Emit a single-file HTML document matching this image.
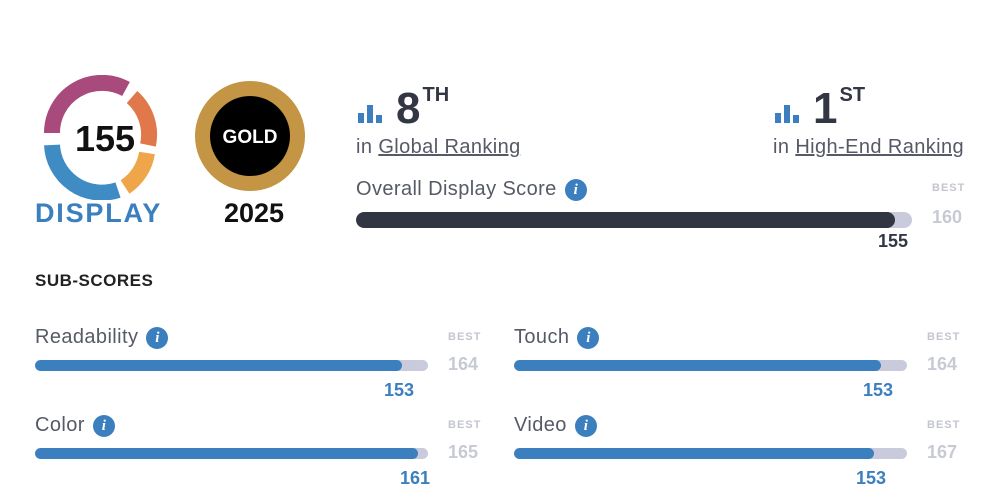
<!DOCTYPE html>
<html><head><meta charset="utf-8"><style>
body{margin:0;width:998px;height:502px;background:#fff;font-family:"Liberation Sans",sans-serif;position:relative;overflow:hidden;color:#333744}
.a{position:absolute}
.lbl{font-size:20px;color:#555a66;letter-spacing:0.4px}
.info{display:inline-block;width:22px;height:22px;border-radius:50%;background:#3b7fbf;color:#fff;font:italic bold 15px "Liberation Serif",serif;text-align:center;line-height:22px;vertical-align:middle;margin-left:8px;letter-spacing:0}
.best{font-size:11px;font-weight:bold;color:#c3c6cf;letter-spacing:1px}
.bestv{font-size:18px;font-weight:bold;color:#c7cad3}
.val{font-size:18px;font-weight:bold;color:#3b7fbf}
.track{background:#c9cbdc;border-radius:6px;overflow:hidden}
.fill{height:100%;background:#3b7fbf;border-radius:6px}
</style></head><body>
<svg class="a" style="left:30px;top:75px" width="140" height="125">
<g fill="none" stroke-width="16">
<path d="M22,58 A50,50 0 0 1 96,14" stroke="#a84a7c"/>
<path d="M102,22 A50,50 0 0 1 118,70" stroke="#e0784c"/>
<path d="M117,78 A50,50 0 0 1 95,112" stroke="#efa64a"/>
<path d="M88,115 A50,50 0 0 1 22,70" stroke="#3f8bc4"/>
</g>
<text x="75" y="76" text-anchor="middle" font-family="Liberation Sans" font-size="36" font-weight="bold" fill="#111">155</text>
</svg>
<div class="a" style="left:35px;top:198px;font-size:27px;font-weight:bold;color:#3b7fbf;letter-spacing:1.8px">DISPLAY</div>
<svg class="a" style="left:190px;top:78px" width="125" height="120">
<circle cx="60" cy="58" r="55" fill="#c39544"/>
<circle cx="60" cy="58" r="40" fill="#000"/>
<text x="60" y="65" text-anchor="middle" font-family="Liberation Sans" font-size="19" font-weight="bold" fill="#fff">GOLD</text>
</svg>
<div class="a" style="left:224px;top:198px;font-size:27px;font-weight:bold;color:#111">2025</div>

<div class="a" style="left:356px;top:84px">
<svg width="30" height="22" style="vertical-align:baseline"><rect x="2" y="12" width="6" height="10" fill="#3b7fbf"/><rect x="11" y="4" width="6" height="18" fill="#3b7fbf"/><rect x="20" y="14" width="6" height="8" fill="#3b7fbf"/></svg><span style="font-size:44px;font-weight:bold;margin-left:10px">8</span><span style="font-size:20px;font-weight:bold;vertical-align:22px;margin-left:2px">TH</span></div>
<div class="a lbl" style="left:356px;top:136px">in <u>Global Ranking</u></div>
<div class="a" style="left:773px;top:84px">
<svg width="30" height="22"><rect x="2" y="12" width="6" height="10" fill="#3b7fbf"/><rect x="11" y="4" width="6" height="18" fill="#3b7fbf"/><rect x="20" y="14" width="6" height="8" fill="#3b7fbf"/></svg><span style="font-size:44px;font-weight:bold;margin-left:10px">1</span><span style="font-size:20px;font-weight:bold;vertical-align:22px;margin-left:2px">ST</span></div>
<div class="a lbl" style="left:773px;top:136px">in <u>High-End Ranking</u></div>

<div class="a lbl" style="left:356px;top:178px">Overall Display Score<span class="info">i</span></div>
<div class="a best" style="left:932px;top:182px">BEST</div>
<div class="a bestv" style="left:932px;top:207px">160</div>
<div class="a track" style="left:356px;top:212px;width:556px;height:16px;border-radius:8px"><div class="fill" style="width:539px;background:#323643;border-radius:8px"></div></div>
<div class="a" style="left:868px;top:231px;width:40px;text-align:right;font-size:18px;font-weight:bold;color:#333744">155</div>

<div class="a" style="left:35px;top:271px;font-size:17px;font-weight:bold;color:#222;letter-spacing:0.5px">SUB-SCORES</div>
<div id="subs"></div>
<script>
const names=["Readability","Touch","Color","Video"];
const scores=[153,153,161,153];
const bests=[164,164,165,167];
const cont=document.getElementById('subs');
for(let i=0;i<4;i++){
  const x=i%2?514:35, y=i<2?326:414, w=393;
  const fw=Math.round(w*scores[i]/bests[i]);
  const g=document.createElement('div');
  
  
  g.innerHTML=`<div class="a lbl" style="left:${x}px;top:${y}px">${names[i]}<span class="info">i</span></div>
<div class="a best" style="left:${x+413}px;top:${y+5}px">BEST</div>
<div class="a bestv" style="left:${x+413}px;top:${y+28}px">${bests[i]}</div>
<div class="a track" style="left:${x}px;top:${y+34}px;width:${w}px;height:11px"><div class="fill" style="width:${fw}px"></div></div>
<div class="a val" style="left:${x+fw-30}px;top:${y+54}px;width:42px;text-align:right">${scores[i]}</div>`;
  cont.appendChild(g);
}
</script>
</body></html>
